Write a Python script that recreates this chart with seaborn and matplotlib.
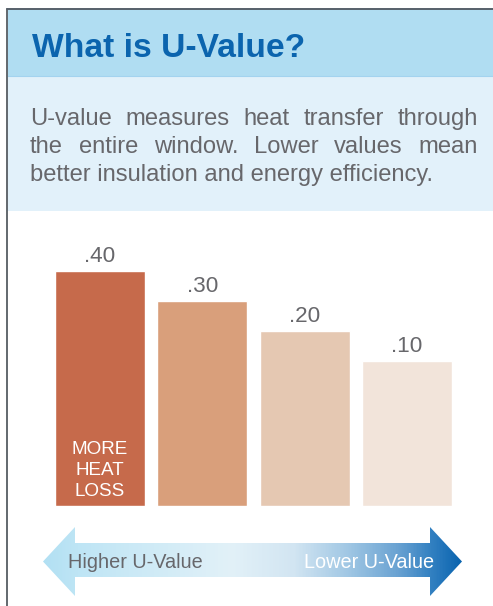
import numpy as np
import matplotlib
matplotlib.use("Agg")
import matplotlib.pyplot as plt
import seaborn as sns
from matplotlib.patches import Rectangle, Polygon
from matplotlib.colors import LinearSegmentedColormap

# Data
u_values = [0.40, 0.30, 0.20, 0.10]
bar_labels = [".40", ".30", ".20", ".10"]
bar_colors = ["#c66a4b", "#d99f7b", "#e5c8b2", "#f2e4da"]
inner_label = ["MORE", "HEAT", "LOSS"]
arrow_left_text = "Higher U-Value"
arrow_right_text = "Lower U-Value"
title = "What is U-Value?"
desc_lines = [
    "U-value measures heat transfer through",
    "the entire window. Lower values mean",
    "better insulation and energy efficiency.",
]

sns.set_style("white")
plt.rcParams["font.family"] = ["Liberation Sans", "DejaVu Sans"]

W, H = 493, 606
fig = plt.figure(figsize=(W / 100, H / 100), dpi=100, facecolor="white")

# background axes in pixel coordinates
bg = fig.add_axes([0, 0, 1, 1])
bg.set_xlim(0, W)
bg.set_ylim(H, 0)
bg.axis("off")

# header + description bands
bg.add_patch(Rectangle((6.5, 9), W, 67, color="#b0ddf2", lw=0))
bg.add_patch(Rectangle((6.5, 76), W, 134.5, color="#e2f1fa", lw=0))
bg.plot([6.5, W], [76, 76], color="#a3d3ef", lw=0.8)
bg.plot([6.5, 6.5], [9, H], color="#62686e", lw=1.4)
bg.plot([6.5, W], [9, 9], color="#56606a", lw=1.4)

bg.text(32, 57, title, fontsize=24.2, fontweight="bold", color="#0b64ae", va="baseline")

# justified description text
text_gray = "#67676b"
renderer = fig.canvas.get_renderer()
x0, x1 = 30, 478
for i, line in enumerate(desc_lines):
    y = 125 + i * 28
    if i == len(desc_lines) - 1:
        bg.text(x0, y, line, fontsize=17.1, color=text_gray, va="baseline")
        continue
    words = line.split()
    objs = [bg.text(0, y, w, fontsize=17.1, color=text_gray, va="baseline") for w in words]
    widths = [o.get_window_extent(renderer).width for o in objs]
    gap = (x1 - x0 - sum(widths)) / (len(words) - 1)
    x = x0
    for o, wd in zip(objs, widths):
        o.set_x(x)
        x += wd + gap

# bar chart
base = -0.385
ax = fig.add_axes([48.8 / W, (H - 506) / H, (458.2 - 48.8) / W, (506 - 230) / H])
ax.patch.set_alpha(0)
sns.barplot(x=bar_labels, y=u_values, hue=bar_labels, palette=bar_colors,
            legend=False, width=0.88, saturation=1, ax=ax)
for p in ax.patches:
    h = p.get_height()
    p.set_y(base)
    p.set_height(h - base)
ax.set_ylim(base, 0.535)
ax.set_xlim(-0.5, len(u_values) - 0.5)
ax.axis("off")

for i, (v, lab) in enumerate(zip(u_values, bar_labels)):
    ax.text(i, v + 0.03, lab, ha="center", va="baseline", fontsize=16.2, color=text_gray)

for j, word in enumerate(inner_label):
    ax.text(0, base + (10 + (2 - j) * 21) / 300, word, ha="center", va="baseline",
            fontsize=13.6, color="white")

# gradient double arrow
pts = [(43, 561.5), (75, 527), (75, 543), (430, 543), (430, 527), (462, 561.5),
       (430, 596), (430, 577), (75, 577), (75, 596)]
arrow = Polygon(pts, closed=True, facecolor="none", edgecolor="none")
bg.add_patch(arrow)
cmap = LinearSegmentedColormap.from_list("arrow", [
    (0.0, (178 / 255, 224 / 255, 243 / 255)),
    (0.08, (190 / 255, 229 / 255, 245 / 255)),
    (0.45, (226 / 255, 241 / 255, 248 / 255)),
    (0.6, (210 / 255, 229 / 255, 242 / 255)),
    (0.73, (160 / 255, 199 / 255, 228 / 255)),
    (0.85, (105 / 255, 162 / 255, 210 / 255)),
    (0.93, (50 / 255, 128 / 255, 193 / 255)),
    (1.0, (10 / 255, 100 / 255, 175 / 255)),
])
grad = np.linspace(0, 1, 400).reshape(1, -1)
im = bg.imshow(grad, cmap=cmap, extent=(43, 462, 596, 527), aspect="auto", interpolation="bilinear")
im.set_clip_path(arrow)
bg.set_xlim(0, W)
bg.set_ylim(H, 0)

bg.text(68, 567.5, arrow_left_text, fontsize=14.3, color=text_gray, va="baseline")
bg.text(434, 567.5, arrow_right_text, fontsize=14.3, color="white", va="baseline", ha="right")

fig.savefig("out.png", dpi=100)
